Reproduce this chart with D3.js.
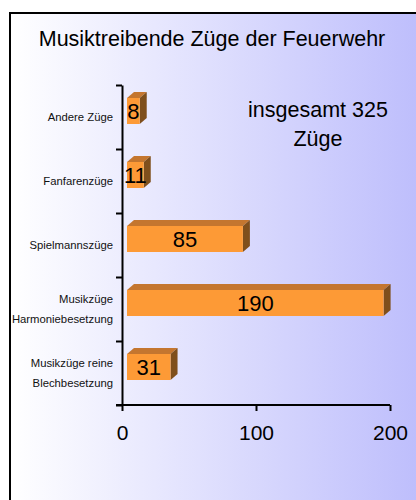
<!DOCTYPE html>
<html>
<head>
<meta charset="utf-8">
<script src="https://cdn.jsdelivr.net/npm/d3@7.9.0/dist/d3.min.js"></script>
<style>
  body { margin: 0; background: #fff; }
  svg { display: block; font-family: "Liberation Sans", Arial, sans-serif; }
</style>
</head>
<body>
<svg id="chart" width="416" height="500"></svg>
<script>
// data
const categories = ['Andere Züge', 'Fanfarenzüge', 'Spielmannszüge', 'Musikzüge\nHarmoniebesetzung', 'Musikzüge reine\nBlechbesetzung'];
const values = [8, 11, 85, 190, 31];
const xTicks = [0, 100, 200];
const title = 'Musiktreibende Züge der Feuerwehr';
const note = ['insgesamt 325', 'Züge'];

const svg = d3.select('#chart');

// background frame with gradient
const defs = svg.append('defs');
const grad = defs.append('linearGradient').attr('id', 'bg')
  .attr('x1', '0%').attr('x2', '100%').attr('y1', '0%').attr('y2', '0%');
grad.append('stop').attr('offset', '0%').attr('stop-color', '#ffffff');
grad.append('stop').attr('offset', '100%').attr('stop-color', '#bcbcfc');

svg.append('rect')
  .attr('x', 10).attr('y', 13).attr('width', 420).attr('height', 500)
  .attr('fill', 'url(#bg)').attr('stroke', '#000').attr('stroke-width', 2);

svg.append('text')
  .attr('x', 212).attr('y', 46)
  .attr('text-anchor', 'middle')
  .attr('font-size', 21.5)
  .text(title);

// scales
const x = d3.scaleLinear().domain([0, 200]).range([122, 390]);
const yIdx = d3.scaleLinear().domain([0, categories.length]).range([85, 405]);
const band = yIdx(1) - yIdx(0);

// y axis: ticks at category boundaries
svg.append('g')
  .attr('transform', `translate(${x(0)},0)`)
  .call(d3.axisLeft(yIdx).tickValues(d3.range(categories.length + 1)).tickFormat('').tickSize(6).tickSizeOuter(0))
  .call(g => g.selectAll('path, line').attr('stroke', '#000').attr('stroke-width', 2));

// x axis
const xAxis = svg.append('g')
  .attr('transform', `translate(0,${yIdx(categories.length)})`)
  .call(d3.axisBottom(x).tickValues(xTicks).tickSize(6).tickSizeOuter(0));
xAxis.selectAll('path, line').attr('stroke', '#000').attr('stroke-width', 2);
xAxis.select('.domain').attr('d', `M${x(0) - 6},0H${x(200)}`);
xAxis.selectAll('text')
  .attr('y', 35).attr('dy', null)
  .attr('font-size', 21).attr('fill', '#000')
  .attr('font-family', '"Liberation Sans", Arial, sans-serif');

// category labels
categories.forEach((c, i) => {
  const lines = c.split('\n');
  const cy = yIdx(i) + band / 2;
  const t = svg.append('text')
    .attr('text-anchor', 'end')
    .attr('font-size', 11.3)
    .attr('fill', '#111');
  lines.forEach((ln, k) => {
    t.append('tspan')
      .attr('x', 113)
      .attr('y', cy + 4 + (k - (lines.length - 1) / 2) * 20)
      .text(ln);
  });
});

// 3D bars
const dx = 7, dy = -6, barH = 26;
const bars = svg.append('g');
values.forEach((v, i) => {
  const x0 = x(0) + 5;
  const x1 = x(v) + 7;
  const yTop = yIdx(i) + band / 2 - 6 - barH / 2;
  const yBot = yTop + barH;
  // top face
  bars.append('path')
    .attr('d', `M${x0},${yTop}L${x0 + dx},${yTop + dy}L${x1 + dx},${yTop + dy}L${x1},${yTop}Z`)
    .attr('fill', '#c4762f');
  // side face
  bars.append('path')
    .attr('d', `M${x1},${yTop}L${x1 + dx},${yTop + dy}L${x1 + dx},${yBot + dy}L${x1},${yBot}Z`)
    .attr('fill', '#7f4f1c');
  // front face
  bars.append('rect')
    .attr('x', x0).attr('y', yTop).attr('width', x1 - x0).attr('height', barH)
    .attr('fill', '#fd9a36');
  bars.append('text')
    .attr('x', (x0 + x1) / 2).attr('y', yTop + barH / 2 + 8)
    .attr('text-anchor', 'middle')
    .attr('font-size', 22)
    .text(v);
});

// total note
note.forEach((ln, k) => {
  svg.append('text')
    .attr('x', 318).attr('y', 117 + k * 29)
    .attr('text-anchor', 'middle')
    .attr('font-size', 21.5)
    .text(ln);
});
</script>
</body>
</html>
